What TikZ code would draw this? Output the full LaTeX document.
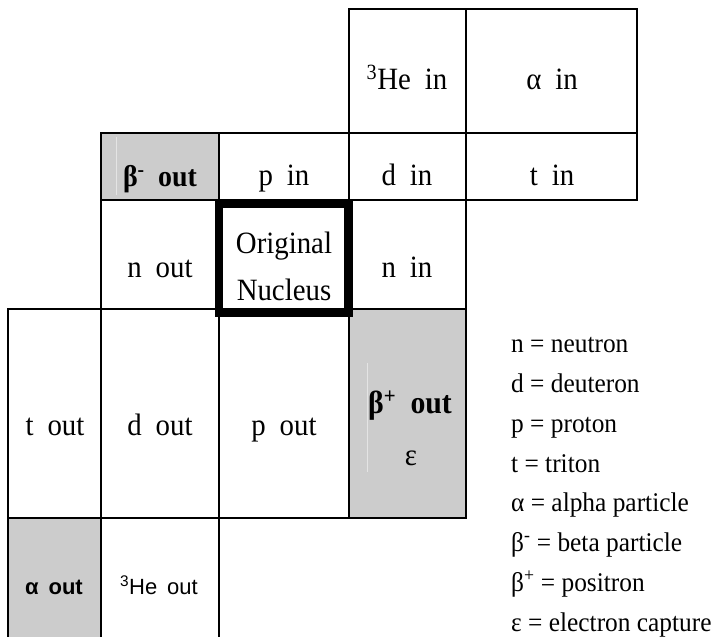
\documentclass[tikz,border=0pt]{standalone}
\usepackage{fontspec}
\setmainfont[FakeStretch=0.93]{Liberation Serif}
\newfontfamily\legfont[FakeStretch=0.94]{Liberation Serif}
\setsansfont{Liberation Sans}
\definecolor{cellgray}{RGB}{204,204,204}
\definecolor{faint}{RGB}{228,228,228}
\newcommand{\gp}{\hspace{0.45em}}
\begin{document}
\begin{tikzpicture}[x=1pt,y=-1pt,
  gridline/.style={line width=2pt, line cap=rect},
  lbl/.style={anchor=base, inner sep=0pt, font=\fontsize{31}{36}\selectfont},
  blbl/.style={anchor=base, inner sep=0pt, font=\fontsize{30}{36}\selectfont\bfseries},
  slbl/.style={anchor=base, inner sep=0pt, font=\fontsize{22}{26}\selectfont\sffamily},
  leg/.style={anchor=base west, inner sep=0pt, font=\legfont\fontsize{27}{32}\selectfont}]
\useasboundingbox (0,0) rectangle (712,637);
% shaded cells
\fill[cellgray] (101,133) rectangle (219,200);
\fill[cellgray] (349,309) rectangle (466,518);
\fill[cellgray] (8,518) rectangle (101,637);
\draw[faint, line width=0.7pt] (116,137) -- (116,195);
\draw[faint, line width=0.7pt] (367,363) -- (367,472);
% grid lines
\draw[gridline] (349,9) -- (637,9);
\draw[gridline] (101,133) -- (637,133);
\draw[gridline] (101,200) -- (637,200);
\draw[gridline] (8,309) -- (466,309);
\draw[gridline] (8,518) -- (466,518);
\draw[gridline] (8,309) -- (8,640);
\draw[gridline] (101,133) -- (101,640);
\draw[gridline] (219,133) -- (219,640);
\draw[gridline] (349,9) -- (349,518);
\draw[gridline] (466,9) -- (466,518);
\draw[gridline] (637,9) -- (637,200);
% original nucleus box
\draw[line width=8.5pt] (219,203.5) rectangle (348.5,312.5);
% cell texts
\node[lbl] (he3in) at (407,89) {\textsuperscript{3}He\gp in};
\node[lbl] (alphain) at (552,89) {α\gp in};
\node[blbl] (betamout) at (160,186) {β\textsuperscript{-}\gp out};
\node[lbl] (pin) at (284,185) {p\gp in};
\node[lbl] (din) at (407,185) {d\gp in};
\node[lbl] (tin) at (552,185) {t\gp in};
\node[lbl] (nout) at (160,277) {n\gp out};
\node[lbl] (orig) at (284,253) {Original};
\node[lbl] (nucl) at (284,300) {Nucleus};
\node[lbl] (nin) at (407,277) {n\gp in};
\node[lbl] (tout) at (55,435) {t\gp out};
\node[lbl] (dout) at (160,435) {d\gp out};
\node[lbl] (pout) at (284,435) {p\gp out};
\node[blbl, font=\fontsize{32}{38}\selectfont\bfseries] (betapout) at (410,413) {β\textsuperscript{+}\gp out};
\node[lbl] (eps) at (411,465) {ε};
\node[slbl, font=\fontsize{22}{26}\selectfont\sffamily\bfseries] (alphaout) at (54,594) {α\gp out};
\node[slbl] (he3out) at (159,594) {\textsuperscript{3}He\gp out};
% legend
\node[leg] (l1) at (511,352) {n = neutron};
\node[leg] (l2) at (511,392) {d = deuteron};
\node[leg] (l3) at (511,432) {p = proton};
\node[leg] (l4) at (511,472) {t = triton};
\node[leg] (l5) at (511,511) {α = alpha particle};
\node[leg] (l6) at (511,551) {β\textsuperscript{-} = beta particle};
\node[leg] (l7) at (511,591) {β\textsuperscript{+} = positron};
\node[leg] (l8) at (511,631) {ε = electron capture};
\end{tikzpicture}
\end{document}
